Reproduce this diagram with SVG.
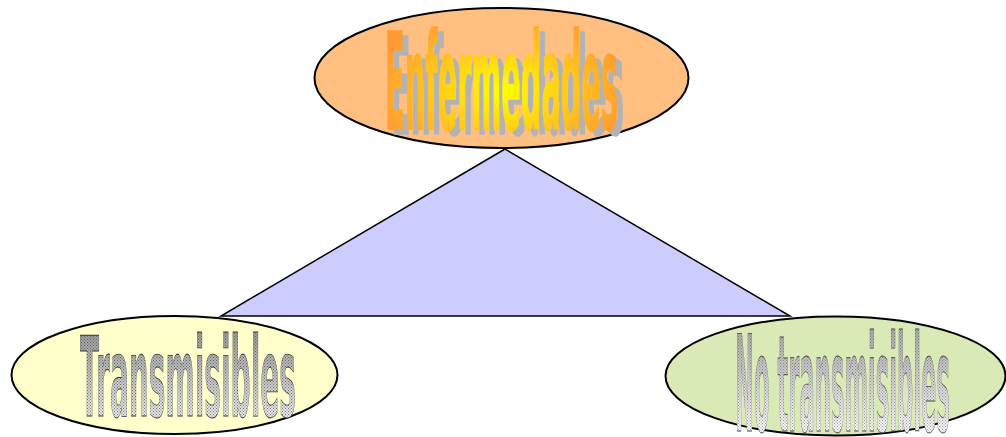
<svg xmlns="http://www.w3.org/2000/svg" width="1006" height="437" viewBox="0 0 1006 437">
<defs>
<style>
.node{stroke:#000;stroke-width:2}
.wa{font-family:"DejaVu Sans","Liberation Sans",Arial,sans-serif;font-weight:bold}
</style>
<radialGradient id="gOrange" cx="0.5" cy="0.55" r="0.55">
<stop offset="0" stop-color="#FFFF00"/>
<stop offset="1" stop-color="#FF9933"/>
</radialGradient>
<linearGradient id="gGray" x1="0" y1="0" x2="0" y2="1">
<stop offset="0" stop-color="#8C8C8C"/>
<stop offset="1" stop-color="#FFFFFF"/>
</linearGradient>
<linearGradient id="gGray2" x1="0" y1="0" x2="0" y2="1">
<stop offset="0" stop-color="#999999"/>
<stop offset="0.85" stop-color="#FFFFFF"/>
<stop offset="1" stop-color="#FFFFFF"/>
</linearGradient>
<pattern id="dots" width="3" height="3" patternUnits="userSpaceOnUse">
<rect x="0" y="0" width="1" height="1" fill="#333"/>
<rect x="1.5" y="1.5" width="1" height="1" fill="#333"/>
</pattern>
</defs>
<g id="connectors">
<polygon points="505,149 221,316 790,316" fill="#CCCCFF" stroke="#000" stroke-width="1.5"/>
</g>
<g id="node-enfermedades">
<ellipse class="node" cx="501.5" cy="78" rx="187" ry="70" fill="#FFBF80"/>
<text class="wa" x="391" y="134" font-size="133" textLength="233" lengthAdjust="spacingAndGlyphs" fill="#B3B3B3" stroke="#B3B3B3" stroke-width="1.5">Enfermedades</text>
<text class="wa" x="385" y="129" font-size="133" textLength="233" lengthAdjust="spacingAndGlyphs" fill="url(#gOrange)" stroke="url(#gOrange)" stroke-width="1.5">Enfermedades</text>
</g>
<g id="node-transmisibles">
<ellipse class="node" cx="174.5" cy="375" rx="163" ry="59" fill="#FFFFCC"/>
<text class="wa" x="80" y="416" font-size="110" textLength="216" lengthAdjust="spacingAndGlyphs" fill="url(#gGray)" stroke="#333" stroke-width="0.8">Transmisibles</text>
<text class="wa" x="80" y="416" font-size="110" textLength="216" lengthAdjust="spacingAndGlyphs" fill="url(#dots)" opacity="0.6">Transmisibles</text>
</g>
<g id="node-no-transmisibles">
<ellipse class="node" cx="835.5" cy="376" rx="170" ry="59.5" fill="#D9EAB6"/>
<text class="wa" x="735" y="431" font-size="134" textLength="215" lengthAdjust="spacingAndGlyphs" fill="url(#gGray2)" stroke="#444" stroke-width="0.8">No transmisibles</text>
<text class="wa" x="735" y="431" font-size="134" textLength="215" lengthAdjust="spacingAndGlyphs" fill="url(#dots)" opacity="0.45">No transmisibles</text>
</g>
</svg>
